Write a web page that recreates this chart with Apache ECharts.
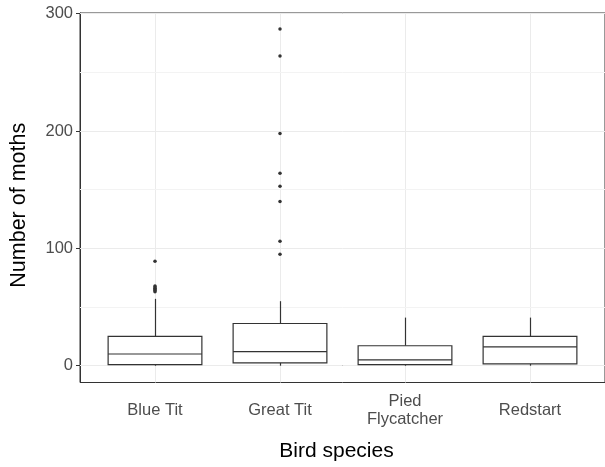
<!DOCTYPE html>
<html>
<head>
<meta charset="utf-8">
<script src="https://cdn.jsdelivr.net/npm/echarts@6/dist/echarts.min.js"></script>
<style>html,body{margin:0;padding:0;background:#fff}#c{width:605px;height:467px}</style>
</head>
<body>
<div id="c"></div>
<script>
// ---- data ----
var categories = ['Blue Tit', 'Great Tit', 'Pied\nFlycatcher', 'Redstart'];
var whiskerLow  = [0, 0, 0, 0];
var q1          = [1, 2.5, 1, 1.5];
var median      = [10, 12, 5, 16];
var q3          = [25, 36, 17, 25];
var whiskerHigh = [57, 55, 41, 41];
var outliersBlueTit  = [63, 64, 65, 66, 67, 68, 89];
var outliersGreatTit = [95, 106, 140, 153, 164, 198, 264, 287];
var outliersPied     = [];
var outliersRedstart = [];
var yTicks = [0, 100, 200, 300];
var yMinorTicks = [50, 150, 250];

// ---- build series data ----
var catPos = categories.map(function (c, i) { return i + 1; });
var boxData = categories.map(function (c, i) {
  return [i + 1, whiskerLow[i], q1[i], median[i], q3[i], whiskerHigh[i]];
});
var outlierLists = [outliersBlueTit, outliersGreatTit, outliersPied, outliersRedstart];
var outlierData = [];
outlierLists.forEach(function (list, i) {
  list.forEach(function (v) { outlierData.push([i + 1, v]); });
});

var FONT = 'Liberation Sans, Arial, Helvetica, sans-serif';
var LINE = '#333333';

function lineStyle() { return {stroke: LINE, lineWidth: 1.2}; }

var chart = echarts.init(document.getElementById('c'), null, {renderer: 'canvas'});
chart.setOption({
  animation: false,
  backgroundColor: '#ffffff',
  grid: {
    left: 78, top: 13, width: 529, height: 370,
    containLabel: false,
    show: true, borderColor: LINE, borderWidth: 1, backgroundColor: 'transparent'
  },
  xAxis: {
    type: 'value', min: 0.4, max: 4.6,
    splitLine: {show: false},
    axisLine: {show: true, lineStyle: {color: LINE, width: 1}},
    axisTick: {show: true, customValues: catPos, length: 4, lineStyle: {color: LINE}},
    axisLabel: {
      customValues: catPos,
      formatter: function (v) { return categories[Math.round(v) - 1] || ''; },
      fontFamily: FONT, fontSize: 16.5, color: '#4d4d4d',
      lineHeight: 18, verticalAlign: 'middle', margin: 28
    },
    name: 'Bird species', nameLocation: 'middle', nameGap: 69,
    nameTextStyle: {fontFamily: FONT, fontSize: 21, color: '#000', verticalAlign: 'middle', padding: [0, 12, 0, 0]}
  },
  yAxis: {
    type: 'value', min: -14.3, max: 300.6,
    splitLine: {show: false},
    axisLine: {show: true, lineStyle: {color: LINE, width: 1}},
    axisTick: {show: true, customValues: yTicks, length: 4, lineStyle: {color: LINE}},
    axisLabel: {
      customValues: yTicks,
      fontFamily: FONT, fontSize: 16.5, color: '#4d4d4d', margin: 7
    },
    name: 'Number of moths', nameLocation: 'middle', nameGap: 61,
    nameTextStyle: {fontFamily: FONT, fontSize: 21.5, color: '#000', verticalAlign: 'middle', padding: [0, 15, 0, 0]}
  },
  series: [
    {
      type: 'line', data: [], z: 1, silent: true,
      markLine: {
        z: 1,
        silent: true, symbol: 'none', label: {show: false}, animation: false,
        lineStyle: {color: '#ebebeb', width: 1, type: 'solid'},
        emphasis: {disabled: true},
        data: catPos.map(function (v) { return {xAxis: v}; })
          .concat(yTicks.map(function (v) { return {yAxis: v}; }))
          .concat(yMinorTicks.map(function (v) { return {yAxis: v, lineStyle: {color: '#f3f3f3', width: 1}}; }))
      }
    },
    {
      type: 'custom', z: 10, silent: true,
      encode: {x: 0, y: [1, 2, 3, 4, 5]},
      data: boxData,
      renderItem: function (params, api) {
        var x = api.value(0);
        var pLo = api.coord([x, api.value(1)]);
        var pQ1 = api.coord([x, api.value(2)]);
        var pMed = api.coord([x, api.value(3)]);
        var pQ3 = api.coord([x, api.value(4)]);
        var pHi = api.coord([x, api.value(5)]);
        var w = api.size([0.75, 0])[0];
        var half = w / 2;
        var cx = Math.round(pMed[0]) + 0.5;
        return {
          type: 'group',
          children: [
            {type: 'line', shape: {x1: cx, y1: pHi[1], x2: cx, y2: pQ3[1]}, style: lineStyle()},
            {type: 'line', shape: {x1: cx, y1: pQ1[1], x2: cx, y2: pLo[1]}, style: lineStyle()},
            {type: 'rect', shape: {x: pQ3[0] - half, y: pQ3[1], width: w, height: pQ1[1] - pQ3[1]},
              style: {stroke: LINE, lineWidth: 1.2, fill: '#ffffff'}},
            {type: 'line', shape: {x1: pMed[0] - half, y1: pMed[1], x2: pMed[0] + half, y2: pMed[1]}, style: lineStyle()}
          ]
        };
      }
    },
    {
      type: 'scatter', z: 11, silent: true,
      data: outlierData,
      symbol: 'circle', symbolSize: 3.5,
      itemStyle: {color: '#333333', opacity: 1, borderWidth: 0}
    }
  ]
});
</script>
</body>
</html>
